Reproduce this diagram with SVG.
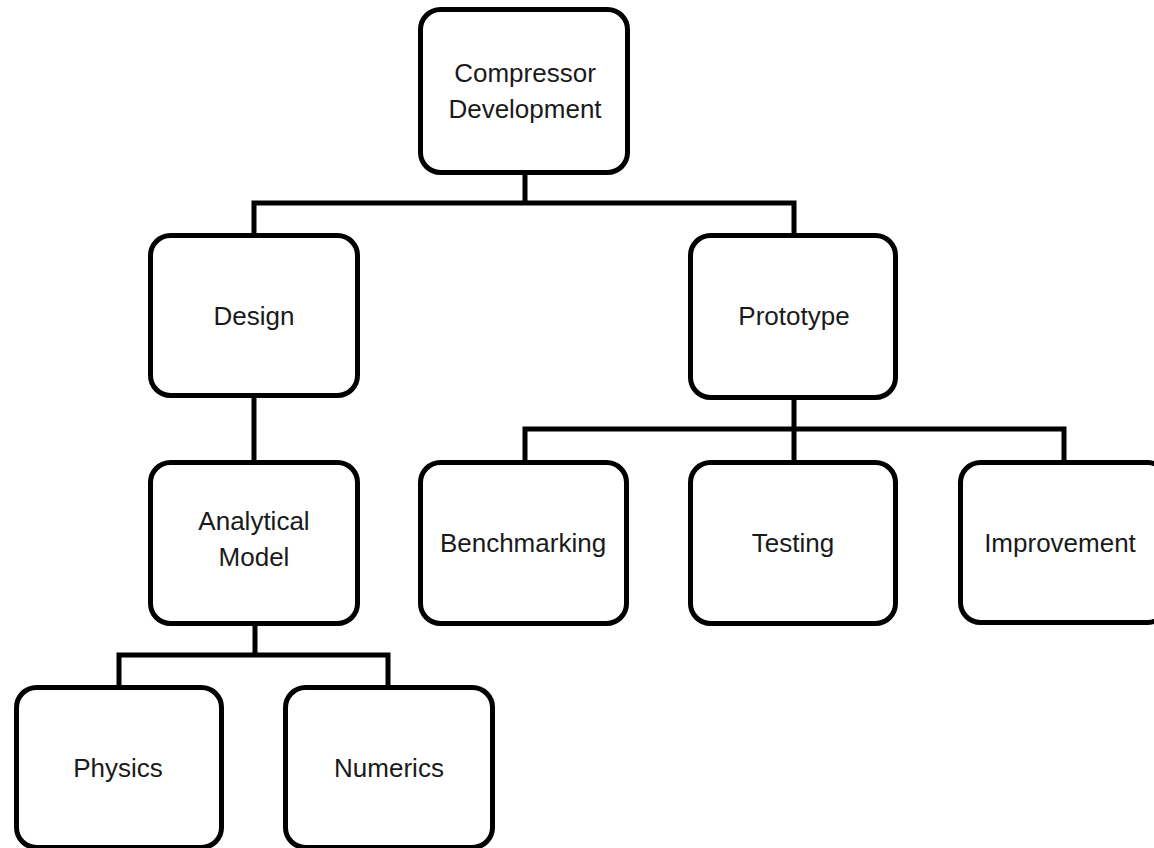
<svg xmlns="http://www.w3.org/2000/svg" width="1154" height="848" viewBox="0 0 1154 848">
<style>
.box{fill:#fff;stroke:#000;stroke-width:5}
.lbl{font-family:"Liberation Sans",Arial,sans-serif;font-size:26px;fill:#1a1a1a;text-anchor:middle}
.conn{fill:none;stroke:#000;stroke-width:5;stroke-linejoin:miter;stroke-linecap:square}
</style>
<rect width="1154" height="848" fill="#fff"/>
<g id="connectors">
<path class="conn" d="M525,175 V203 M254,233 V203 H794 V233"/>
<path class="conn" d="M254,398 V460"/>
<path class="conn" d="M794,400 V460 M525,460 V429 H1064 V460"/>
<path class="conn" d="M255,626 V655 M119,685 V655 H388 V685"/>
</g>
<g id="root">
<rect class="box" x="420.5" y="9.5" width="207" height="163" rx="20"/>
<text class="lbl" x="525" y="82">Compressor</text>
<text class="lbl" x="525" y="118">Development</text>
</g>
<g id="design">
<rect class="box" x="150.5" y="235.5" width="207" height="160" rx="20"/>
<text class="lbl" x="254" y="325">Design</text>
</g>
<g id="prototype">
<rect class="box" x="690.5" y="235.5" width="205" height="162" rx="20"/>
<text class="lbl" x="794" y="325">Prototype</text>
</g>
<g id="analytical">
<rect class="box" x="150.5" y="462.5" width="207" height="161" rx="20"/>
<text class="lbl" x="254" y="530">Analytical</text>
<text class="lbl" x="254" y="566">Model</text>
</g>
<g id="benchmarking">
<rect class="box" x="420.5" y="462.5" width="206" height="161" rx="20"/>
<text class="lbl" x="523" y="552">Benchmarking</text>
</g>
<g id="testing">
<rect class="box" x="690.5" y="462.5" width="205" height="161" rx="20"/>
<text class="lbl" x="793" y="552">Testing</text>
</g>
<g id="improvement">
<rect class="box" x="960.5" y="462.5" width="207" height="160" rx="20"/>
<text class="lbl" x="1060" y="552">Improvement</text>
</g>
<g id="physics">
<rect class="box" x="16.5" y="687.5" width="205" height="160" rx="20"/>
<text class="lbl" x="118" y="777">Physics</text>
</g>
<g id="numerics">
<rect class="box" x="285.5" y="687.5" width="207" height="160" rx="20"/>
<text class="lbl" x="389" y="777">Numerics</text>
</g>
</svg>
